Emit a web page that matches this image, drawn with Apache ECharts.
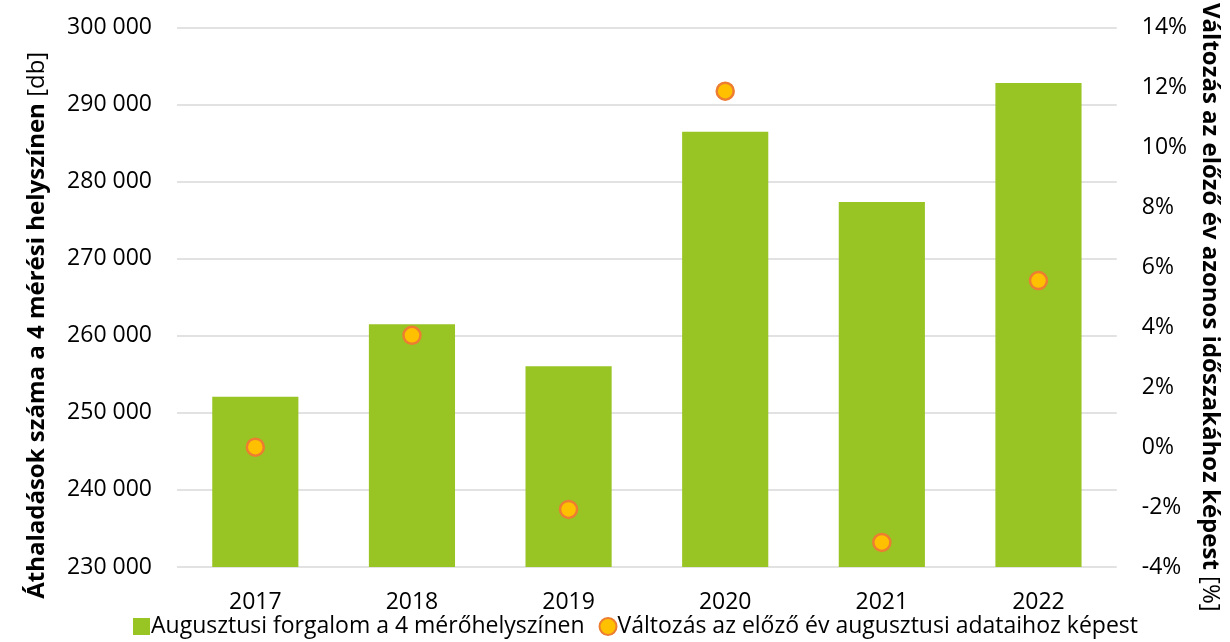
<!DOCTYPE html>
<html>
<head>
<meta charset="utf-8">
<script src="https://cdn.jsdelivr.net/npm/echarts@6/dist/echarts.min.js"></script>
<style>
html,body{margin:0;padding:0;background:#fff;}
#chart{width:1230px;height:642px;}
</style>
</head>
<body>
<div id="chart"></div>
<script>
const years = ['2017', '2018', '2019', '2020', '2021', '2022'];
const traffic = [252100, 261500, 256060, 286480, 277380, 292800];
const changePct = [0, 3.73, -2.08, 11.88, -3.18, 5.56];
const barName = 'Augusztusi forgalom a 4 mérőhelyszínen';
const pointName = 'Változás az előző év augusztusi adataihoz képest';
const leftTitleBold = 'Áthaladások száma a 4 mérési helyszínen';
const leftTitleUnit = ' [db]';
const rightTitleBold = 'Változás az előző év azonos időszakához képest';
const rightTitleUnit = ' [%]';

const FONT = '"Open Sans", "Noto Sans", sans-serif';
const FS = 23;
const TFS = 24;
const chart = echarts.init(document.getElementById('chart'));
chart.setOption({
  animation: false,
  textStyle: { fontFamily: FONT, color: '#000' },
  grid: { left: 177, right: 108, top: 25, bottom: 75 },
  legend: {
    bottom: -1,
    left: 128,
    itemGap: 14,
    itemWidth: 17,
    itemHeight: 17,
    textStyle: { fontFamily: FONT, fontSize: FS, color: '#000', padding: [0,0,0,-4] },
    data: [
      { name: barName, icon: 'rect' },
      { name: pointName, icon: 'circle' }
    ]
  },
  xAxis: {
    type: 'category',
    data: years,
    axisLine: { show: false },
    axisTick: { show: false },
    axisLabel: { fontSize: FS, color: '#000', margin: 24, fontFamily: FONT }
  },
  yAxis: [
    {
      type: 'value',
      min: 230000,
      max: 300000,
      interval: 10000,
      position: 'left',
      axisLine: { show: false },
      axisTick: { show: false },
      splitLine: { lineStyle: { color: '#d9d9d9', width: 1.5 } },
      axisLabel: {
        fontSize: FS, color: '#000', margin: 25, fontFamily: FONT,
        formatter: v => String(v).replace(/\B(?=(\d{3})+(?!\d))/g, ' ')
      },
      name: '{b|' + leftTitleBold + '}{n|' + leftTitleUnit + '}',
      nameLocation: 'middle',
      nameRotate: 90,
      nameGap: 128,
      nameTextStyle: {
        padding: [0, 56, 0, 0],
        rich: {
          b: { fontFamily: FONT, fontSize: TFS, fontWeight: 'bold', color: '#000' },
          n: { fontFamily: FONT, fontSize: TFS, color: '#000' }
        }
      }
    },
    {
      type: 'value',
      min: -4,
      max: 14,
      interval: 2,
      position: 'right',
      axisLine: { show: false },
      axisTick: { show: false },
      splitLine: { show: false },
      axisLabel: { fontSize: FS, color: '#000', margin: 25, fontFamily: FONT, formatter: '{value}%' },
      name: '{b|' + rightTitleBold + '}{n|' + rightTitleUnit + '}',
      nameLocation: 'middle',
      nameRotate: -90,
      nameGap: 76,
      nameTextStyle: {
        padding: [0, 0, 0, 20],
        rich: {
          b: { fontFamily: FONT, fontSize: TFS, fontWeight: 'bold', color: '#000' },
          n: { fontFamily: FONT, fontSize: TFS, color: '#000' }
        }
      }
    }
  ],
  series: [
    {
      name: barName,
      type: 'bar',
      data: traffic,
      barWidth: '55%',
      yAxisIndex: 0,
      itemStyle: { color: '#98C424' }
    },
    {
      name: pointName,
      type: 'scatter',
      data: changePct,
      yAxisIndex: 1,
      symbol: 'circle',
      symbolSize: 17,
      itemStyle: { color: '#FFC000', borderColor: '#ED7D31', borderWidth: 2.5, opacity: 1 },
      z: 5
    }
  ]
});
</script>
</body>
</html>
